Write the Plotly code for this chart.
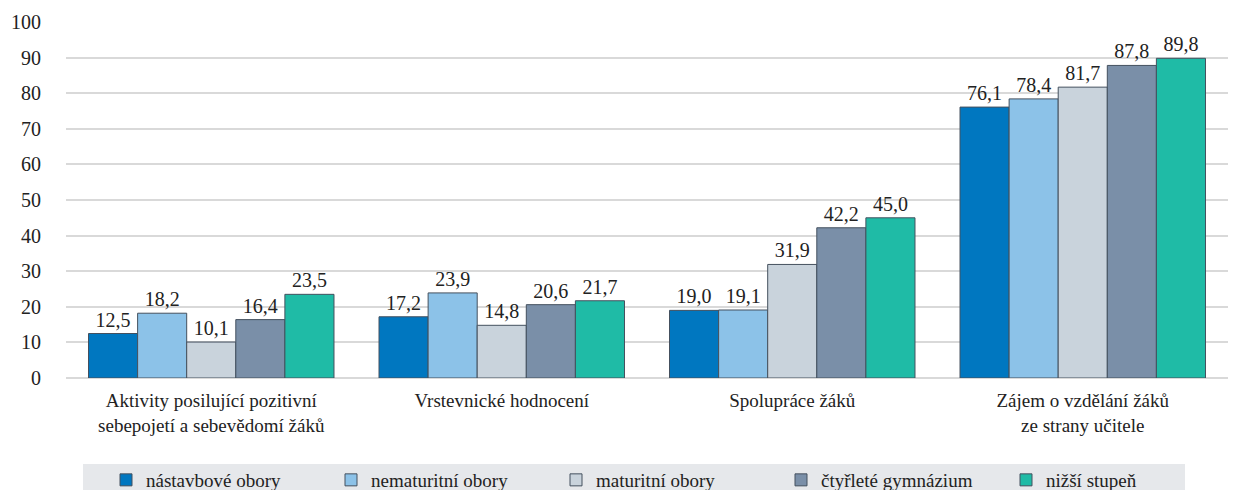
import plotly.graph_objects as go

categories = [
    "Aktivity posilující pozitivní<br>sebepojetí a sebevědomí žáků",
    "Vrstevnické hodnocení",
    "Spolupráce žáků",
    "Zájem o vzdělání žáků<br>ze strany učitele",
]
series_names = ["nástavbové obory", "nematuritní obory", "maturitní obory",
                "čtyřleté gymnázium", "nižší stupeň"]
nastavbove = [12.5, 17.2, 19.0, 76.1]
nematuritni = [18.2, 23.9, 19.1, 78.4]
maturitni = [10.1, 14.8, 31.9, 81.7]
ctyrlete = [16.4, 20.6, 42.2, 87.8]
nizsi = [23.5, 21.7, 45.0, 89.8]
series_values = [nastavbove, nematuritni, maturitni, ctyrlete, nizsi]
colors = ["#0077c0", "#8cc2e8", "#c9d3dc", "#7a8fa8", "#1fbba6"]
y_ticks = list(range(0, 101, 10))

FONT = "Liberation Serif"
TXT = "#222222"

# the page has an 8px body margin; keep the figure inside the viewport
OFF = 8
W, H = 1236 - 2 * OFF, 498 - 2 * OFF
# plot area in reference pixels: x 66..(right edge), y 22..378
l, r, t = 66 - OFF, 0, 22 - OFF
b = H - (378 - OFF)
pw, ph = W - l - r, H - t - b

def px_x(x):
    return (x - OFF - l) / pw

def px_y(y):
    return (H - b - (y - OFF)) / ph

fig = go.Figure()
for name, vals, col in zip(series_names, series_values, colors):
    fig.add_trace(go.Bar(
        x=categories, y=vals, name=name,
        marker=dict(color=col, line=dict(color="#44505e", width=1)),
        text=[f"{v:.1f}".replace(".", ",") for v in vals],
        textposition="outside",
        textfont=dict(family=FONT, size=20, color=TXT),
    ))

fig.add_shape(type="rect", xref="paper", yref="paper",
              x0=px_x(83), x1=px_x(1185), y0=px_y(464), y1=px_y(500),
              fillcolor="#e6e8eb", line=dict(width=0), layer="below")

fig.update_layout(
    width=W, height=H,
    margin=dict(l=l, r=r, t=t, b=b, pad=0, autoexpand=False),
    barmode="group", bargap=0.155, bargroupgap=0,
    plot_bgcolor="white", paper_bgcolor="white",
    font=dict(family=FONT, size=19, color=TXT),
    showlegend=True,
    legend=dict(orientation="h", x=px_x(106), xanchor="left",
                y=px_y(480), yanchor="middle",
                bgcolor="rgba(0,0,0,0)", borderwidth=0,
                font=dict(family=FONT, size=19, color=TXT),
                entrywidth=180, entrywidthmode="pixels"),
    xaxis=dict(showline=False, ticks="outside", ticklen=5,
               tickcolor="rgba(0,0,0,0)",
               tickfont=dict(family=FONT, size=19, color=TXT),
               automargin=False),
    yaxis=dict(range=[0, 100], tickvals=y_ticks, showgrid=True,
               gridcolor="#d9d9d9", gridwidth=1.5, zeroline=True,
               zerolinecolor="#d9d9d9", zerolinewidth=1.5,
               ticks="outside", ticklen=20, tickcolor="rgba(0,0,0,0)",
               tickfont=dict(family=FONT, size=20, color=TXT),
               automargin=False),
)

fig.write_html("out.html")
